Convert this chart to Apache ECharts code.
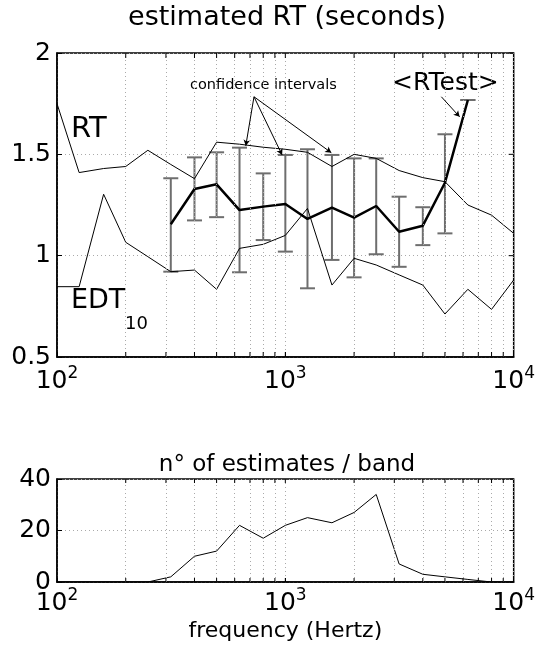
<!DOCTYPE html>
<html>
<head>
<meta charset="utf-8">
<script src="https://cdn.jsdelivr.net/npm/echarts@6/dist/echarts.min.js"></script>
<style>
  html, body { margin: 0; padding: 0; background: #fff; }
  #chart { width: 538px; height: 663px; }
</style>
</head>
<body>
<div id="chart"></div>
<script>
// third-octave band centres (Hz)
const freqs = [100, 125, 160, 200, 250, 315, 400, 500, 630, 800, 1000, 1250, 1600, 2000, 2500, 3150, 4000, 5000, 6300, 8000, 10000]
const rtValues = [1.75, 1.41, 1.43, 1.44, 1.52, 1.45, 1.38, 1.56, 1.55, 1.535, 1.525, 1.51, 1.44, 1.50, 1.48, 1.42, 1.385, 1.365, 1.25, 1.20, 1.11]
const edtValues = [0.847, 0.847, 1.303, 1.066, 0.995, 0.921, 0.929, 0.834, 1.036, 1.056, 1.10, 1.233, 0.855, 0.987, 0.954, 0.905, 0.855, 0.712, 0.834, 0.735, 0.88]
// <RTest> and its confidence intervals
const estFreqs = [315, 400, 500, 630, 800, 1000, 1250, 1600, 2000, 2500, 3150, 4000, 5000, 6300]
const estValues = [1.155, 1.329, 1.352, 1.225, 1.242, 1.255, 1.181, 1.237, 1.188, 1.245, 1.118, 1.148, 1.36, 1.768]
const ciLow = [0.921, 1.174, 1.19, 0.918, 1.077, 1.02, 0.839, 0.979, 0.893, 1.007, 0.945, 1.052, 1.11, 1.768]
const ciHigh = [1.382, 1.485, 1.51, 1.533, 1.406, 1.497, 1.525, 1.497, 1.48, 1.48, 1.291, 1.239, 1.599, 1.768]
// n° of estimates per band
const counts = [0, 0, 0, 0, 0, 2, 10, 12, 22, 17, 22, 25, 23, 27, 34, 7, 3, 2, 1, 0, 0]
const minorFreqs = [200, 300, 400, 500, 600, 700, 800, 900, 2000, 3000, 4000, 5000, 6000, 7000, 8000, 9000]
const edgeTicks = [200, 300, 400, 500, 600, 700, 800, 900, 1000, 2000, 3000, 4000, 5000, 6000, 7000, 8000, 9000]
const rtTicks = [0.5, 1, 1.5, 2]
const countTicks = [0, 20, 40]

const FONT = 'DejaVu Sans'
const zip = (xs, ys) => xs.map((x, i) => [x, ys[i]])
const font = size => size + 'px "' + FONT + '"'

let chart = echarts.init(document.getElementById('chart'))

function logLabel (size, supSize, margin) {
  return {
    fontFamily: FONT,
    fontSize: size,
    color: '#000',
    margin: margin,
    formatter: v => '10{s|' + Math.round(Math.log10(v)) + '}',
    rich: {
      s: { fontFamily: FONT, fontSize: supSize, color: '#000', verticalAlign: 'top', padding: [0, 0, supSize * 0.9, 0] }
    }
  }
}

function minorGrid (xi) {
  return {
    type: 'line',
    xAxisIndex: xi,
    yAxisIndex: xi,
    data: [],
    silent: true,
    z: 1,
    markLine: {
      silent: true,
      symbol: 'none',
      label: { show: false },
      lineStyle: { color: '#aaa', type: [1, 3], width: 1 },
      data: minorFreqs.map(f => ({ xAxis: f }))
    }
  }
}

// small inside ticks on the top and bottom edges, like matlab's box
function frameTicks (xi, ticks, len) {
  let yMin = ticks[0]
  let yMax = ticks[ticks.length - 1]
  return {
    type: 'custom',
    xAxisIndex: xi,
    yAxisIndex: xi,
    silent: true,
    z: 5,
    data: edgeTicks.map(f => [f]),
    renderItem (params, api) {
      let b = api.coord([api.value(0), yMin])
      let t = api.coord([api.value(0), yMax])
      let st = { stroke: '#000', lineWidth: 1 }
      let kids = [
        { type: 'line', shape: { x1: b[0], y1: b[1], x2: b[0], y2: b[1] - len }, style: st },
        { type: 'line', shape: { x1: t[0], y1: t[1], x2: t[0], y2: t[1] + len }, style: st }
      ]
      if (params.dataIndex === 0) {
        // right edge ticks at the y tick values
        ticks.forEach(v => {
          let r = api.coord([10000, v])
          kids.push({ type: 'line', shape: { x1: r[0], y1: r[1], x2: r[0] - len, y2: r[1] }, style: st })
        })
      }
      return { type: 'group', children: kids }
    }
  }
}

function valueAxis (gi, ticks, step) {
  return {
    type: 'value', gridIndex: gi, min: ticks[0], max: ticks[ticks.length - 1], interval: step,
    axisLine: { show: true, lineStyle: { color: '#000', width: 1.5 } },
    axisTick: { show: true, inside: true, length: 5, lineStyle: { color: '#000' } },
    axisLabel: { fontFamily: FONT, fontSize: 25, color: '#000', margin: 6 },
    splitLine: { show: true, lineStyle: { color: '#aaa', type: [1, 3] } }
  }
}

let option = {
  animation: false,
  grid: [
    { left: 57, top: 53, width: 459, height: 304, show: true, borderColor: '#000', borderWidth: 1.5 },
    { left: 57, top: 479, width: 459, height: 103, show: true, borderColor: '#000', borderWidth: 1.5 }
  ],
  xAxis: [
    {
      type: 'log', gridIndex: 0, min: 100, max: 10000, logBase: 10,
      axisLine: { lineStyle: { color: '#000', width: 1.5 } },
      axisTick: { inside: true, length: 5, lineStyle: { color: '#000' } },
      axisLabel: logLabel(25, 17, 8),
      splitLine: { show: true, lineStyle: { color: '#aaa', type: [1, 3] } }
    },
    {
      type: 'log', gridIndex: 1, min: 100, max: 10000, logBase: 10,
      name: 'frequency (Hertz)', nameLocation: 'middle', nameGap: 38,
      nameTextStyle: { fontFamily: FONT, fontSize: 22, color: '#000' },
      axisLine: { lineStyle: { color: '#000', width: 1.5 } },
      axisTick: { inside: true, length: 4, lineStyle: { color: '#000' } },
      axisLabel: logLabel(25, 17, 5),
      splitLine: { show: true, lineStyle: { color: '#aaa', type: [1, 3] } }
    }
  ],
  yAxis: [valueAxis(0, rtTicks, 0.5), valueAxis(1, countTicks, 20)],
  series: [
    minorGrid(0),
    minorGrid(1),
    frameTicks(0, rtTicks, 5),
    frameTicks(1, countTicks, 4),
    {
      name: 'RT', type: 'line', xAxisIndex: 0, yAxisIndex: 0, z: 3,
      data: zip(freqs, rtValues), symbol: 'none',
      lineStyle: { color: '#000', width: 1 }
    },
    {
      name: 'EDT10', type: 'line', xAxisIndex: 0, yAxisIndex: 0, z: 3,
      data: zip(freqs, edtValues), symbol: 'none',
      lineStyle: { color: '#000', width: 1 }
    },
    {
      name: 'CI', type: 'custom', xAxisIndex: 0, yAxisIndex: 0, z: 2,
      data: estFreqs.map((f, i) => [f, ciLow[i], ciHigh[i]]),
      renderItem (params, api) {
        let lo = api.coord([api.value(0), api.value(1)])
        let hi = api.coord([api.value(0), api.value(2)])
        let w = 7.5
        let st = { stroke: '#6e6e6e', lineWidth: 2 }
        return {
          type: 'group',
          children: [
            { type: 'line', shape: { x1: lo[0], y1: lo[1], x2: hi[0], y2: hi[1] }, style: st },
            { type: 'line', shape: { x1: lo[0] - w, y1: lo[1], x2: lo[0] + w, y2: lo[1] }, style: st },
            { type: 'line', shape: { x1: hi[0] - w, y1: hi[1], x2: hi[0] + w, y2: hi[1] }, style: st }
          ]
        }
      }
    },
    {
      name: 'RTest', type: 'line', xAxisIndex: 0, yAxisIndex: 0, z: 4,
      data: zip(estFreqs, estValues), symbol: 'none',
      lineStyle: { color: '#000', width: 2.5 },
      markLine: {
        silent: true,
        symbol: ['none', 'arrow'],
        symbolSize: [5, 6],
        label: { show: false },
        lineStyle: { color: '#000', width: 1, type: 'solid' },
        data: [
          [{ coord: [729, 1.784] }, { coord: [671, 1.542] }],
          [{ coord: [729, 1.784] }, { coord: [968, 1.497] }],
          [{ coord: [729, 1.784] }, { coord: [1590, 1.508] }],
          [{ coord: [4822, 1.784] }, { coord: [5800, 1.685] }]
        ]
      }
    },
    {
      name: 'count', type: 'line', xAxisIndex: 1, yAxisIndex: 1, z: 3,
      data: zip(freqs, counts), symbol: 'none',
      lineStyle: { color: '#000', width: 1 }
    }
  ],
  graphic: [
    { type: 'text', x: 287, y: 4, style: { text: 'estimated RT (seconds)', font: font(27), fill: '#000', align: 'center' } },
    { type: 'text', x: 287, y: 454, style: { text: 'n° of estimates / band', font: font(23), fill: '#000', align: 'center' } },
    { type: 'text', x: 190, y: 78, style: { text: 'confidence intervals', font: font(14.5), fill: '#000' } },
    { type: 'text', x: 392, y: 71, style: { text: '<RTest>', font: font(25), fill: '#000' } },
    { type: 'text', x: 71, y: 115, style: { text: 'RT', font: font(29), fill: '#000' } },
    { type: 'text', x: 71, y: 287, style: { text: 'EDT', font: font(27), fill: '#000' } },
    { type: 'text', x: 125, y: 315, style: { text: '10', font: font(18), fill: '#000' } }
  ]
}

chart.setOption(option)
</script>
</body>
</html>
